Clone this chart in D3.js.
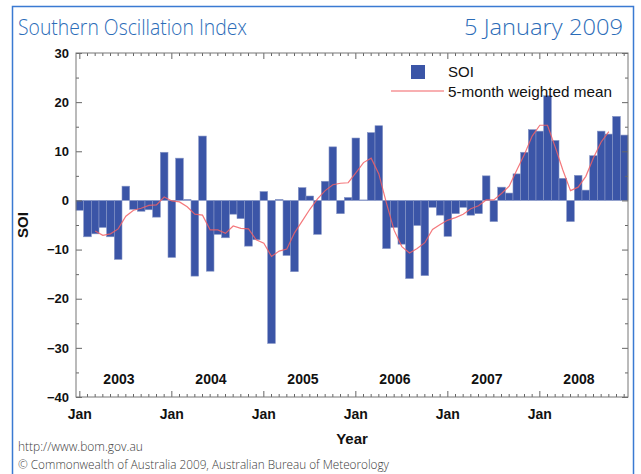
<!DOCTYPE html>
<html lang="en">
<head>
    <meta charset="UTF-8">
    <script src="https://d3js.org/d3.v7.min.js"></script>
    <title>Southern Oscillation Index</title>
    <style>
        body { margin: 0; background: #fff; }
        svg { display: block; }
    </style>
</head>
<body>
    <script>
        // monthly SOI, Jan 2003 .. Dec 2008
        var years = ['2003', '2004', '2005', '2006', '2007', '2008'];
        var soi = [
            -2.0, -7.4, -6.8, -5.5, -7.4, -12.0, 2.9, -1.8, -2.2, -1.9, -3.4, 9.8,
            -11.6, 8.6, 0.2, -15.4, 13.1, -14.4, -6.9, -7.6, -2.8, -3.7, -9.3, -8.0,
            1.8, -29.1, 0.2, -11.2, -14.5, 2.6, 0.9, -6.9, 3.9, 10.9, -2.7, 0.6,
            12.7, 0.1, 13.8, 15.2, -9.8, -5.5, -8.9, -15.9, -5.1, -15.3, -1.4, -3.0,
            -7.3, -2.7, -1.4, -3.0, -2.7, 5.0, -4.3, 2.7, 1.5, 5.4, 9.8, 14.4,
            14.1, 21.3, 12.2, 4.5, -4.3, 5.1, 2.1, 9.1, 14.1, 13.5, 17.1, 13.3
        ];
        // 5-month weighted mean, Mar 2003 .. Oct 2008
        var meanStart = 2;
        var mean5 = [
            -6.2, -7.1, -6.8, -5.8, -3.2, -2.0, -1.6, -1.0, -0.9, 0.7,
            -0.1, -0.3, -1.3, -2.8, -3.0, -6.0, -6.0, -6.7, -5.2, -5.7, -5.8, -8.0,
            -8.7, -11.4, -10.3, -9.9, -6.6, -4.2, -1.8, 0.3, 2.0, 3.2, 3.5, 3.6,
            5.6, 7.7, 8.6, 5.4, -0.6, -6.1, -9.4, -10.7, -9.8, -8.6, -5.9, -4.9,
            -4.0, -3.5, -2.8, -1.7, -1.1, 0.1, 0.1, 1.4, 2.9, 6.2, 9.4, 13.1,
            15.3, 15.3, 10.9, 6.2, 2.0, 2.7, 4.9, 8.7, 11.9, 14.0
        ];
        var yTicks = [30, 20, 10, 0, -10, -20, -30, -40];

        var W = 641, H = 474;
        var plotLeft = 76, plotRight = 628, plotTop = 53, plotBottom = 397;
        var blue = '#2b6cb8';
        var barColor = '#3b55a7';
        var redLine = '#f26065';

        var svg = d3.select('body').append('svg')
            .attr('width', W).attr('height', H);

        // outer frame
        svg.append('rect')
            .attr('x', 12.5).attr('y', 6.5)
            .attr('width', 621).attr('height', 480)
            .attr('fill', 'none')
            .attr('stroke', '#3a7ad2')
            .attr('stroke-width', 1.5);

        svg.append('text')
            .attr('x', 18).attr('y', 35)
            .attr('font-family', 'Open Sans, sans-serif')
            .attr('font-weight', 300)
            .attr('font-size', '22px')
            .attr('fill', blue)
            .attr('textLength', 229)
            .attr('lengthAdjust', 'spacingAndGlyphs')
            .text('Southern Oscillation Index');

        svg.append('text')
            .attr('x', 623).attr('y', 35)
            .attr('text-anchor', 'end')
            .attr('font-family', 'Open Sans, sans-serif')
            .attr('font-weight', 300)
            .attr('font-size', '22px')
            .attr('fill', blue)
            .attr('textLength', 159)
            .attr('lengthAdjust', 'spacingAndGlyphs')
            .text('5 January 2009');

        var months = d3.range(soi.length);

        var xScale = d3.scaleBand()
            .domain(months)
            .range([plotLeft, plotRight])
            .paddingInner(0)
            .paddingOuter(0);

        var yScale = d3.scaleLinear()
            .domain([-40, 30])
            .range([plotBottom, plotTop]);

        // bars
        svg.append('g').selectAll('rect')
            .data(soi)
            .enter()
            .append('rect')
            .attr('x', function(d, i) { return xScale(i); })
            .attr('y', function(d) { return yScale(Math.max(0, d)); })
            .attr('width', xScale.bandwidth())
            .attr('height', function(d) { return Math.abs(yScale(d) - yScale(0)); })
            .attr('fill', barColor)
            .attr('stroke', '#8796c6')
            .attr('stroke-width', 0.6);

        // weighted mean line
        var line = d3.line()
            .x(function(d, i) { return xScale(i + meanStart) + xScale.bandwidth() / 2; })
            .y(function(d) { return yScale(d); });

        svg.append('path')
            .datum(mean5)
            .attr('d', line)
            .attr('fill', 'none')
            .attr('stroke', redLine)
            .attr('stroke-opacity', 0.85)
            .attr('stroke-width', 1.2);

        // axes (ticks inward)
        var janTicks = months.filter(function(i) { return i % 12 === 0; });
        var minorX = months.filter(function(i) { return i % 12 !== 0; });
        var minorY = d3.range(-35, 30, 10);

        function styleAxis(g) {
            g.select('.domain').remove();
            g.selectAll('.tick line').attr('stroke', '#666');
        }

        svg.append('g').attr('transform', 'translate(0,' + plotTop + ')')
            .call(d3.axisTop(xScale).tickValues(minorX).tickSize(-3).tickFormat(''))
            .call(styleAxis);
        svg.append('g').attr('transform', 'translate(0,' + plotTop + ')')
            .call(d3.axisTop(xScale).tickValues(janTicks).tickSize(-6).tickFormat(''))
            .call(styleAxis);
        svg.append('g').attr('transform', 'translate(0,' + plotBottom + ')')
            .call(d3.axisBottom(xScale).tickValues(minorX).tickSize(-3).tickFormat(''))
            .call(styleAxis);
        var xAxis = svg.append('g').attr('transform', 'translate(0,' + plotBottom + ')')
            .call(d3.axisBottom(xScale).tickValues(janTicks).tickSize(-6).tickPadding(12)
                .tickFormat(function() { return 'Jan'; }))
            .call(styleAxis);
        xAxis.selectAll('text')
            .attr('font-family', 'Liberation Sans, Arial, sans-serif')
            .attr('font-size', '14px')
            .attr('font-weight', 'bold')
            .attr('fill', '#111');

        var yAxis = svg.append('g').attr('transform', 'translate(' + plotLeft + ',0)')
            .call(d3.axisLeft(yScale).tickValues(yTicks).tickSize(-6).tickPadding(7))
            .call(styleAxis);
        yAxis.selectAll('text')
            .attr('font-family', 'Liberation Sans, Arial, sans-serif')
            .attr('font-size', '13px')
            .attr('font-weight', 'bold')
            .attr('fill', '#111');
        svg.append('g').attr('transform', 'translate(' + plotLeft + ',0)')
            .call(d3.axisLeft(yScale).tickValues(minorY).tickSize(-3).tickFormat(''))
            .call(styleAxis);
        svg.append('g').attr('transform', 'translate(' + plotRight + ',0)')
            .call(d3.axisRight(yScale).tickValues(yTicks).tickSize(-6).tickFormat(''))
            .call(styleAxis);
        svg.append('g').attr('transform', 'translate(' + plotRight + ',0)')
            .call(d3.axisRight(yScale).tickValues(minorY).tickSize(-3).tickFormat(''))
            .call(styleAxis);

        // plot box
        svg.append('rect')
            .attr('x', plotLeft).attr('y', plotTop)
            .attr('width', plotRight - plotLeft).attr('height', plotBottom - plotTop)
            .attr('fill', 'none')
            .attr('stroke', '#777')
            .attr('stroke-width', 1);

        // year labels inside plot
        svg.append('g').selectAll('text')
            .data(years)
            .enter()
            .append('text')
            .attr('x', function(d, i) { return xScale(i * 12 + 5) + xScale.bandwidth() * 0.6; })
            .attr('y', 384)
            .attr('text-anchor', 'middle')
            .attr('font-family', 'Liberation Sans, Arial, sans-serif')
            .attr('font-size', '14px')
            .attr('font-weight', 'bold')
            .attr('fill', '#111')
            .text(function(d) { return d; });

        // axis titles
        svg.append('text')
            .attr('x', 352).attr('y', 444)
            .attr('text-anchor', 'middle')
            .attr('font-family', 'Liberation Sans, Arial, sans-serif')
            .attr('font-size', '15px')
            .attr('font-weight', 'bold')
            .attr('fill', '#111')
            .text('Year');

        svg.append('text')
            .attr('transform', 'translate(28,225) rotate(-90)')
            .attr('text-anchor', 'middle')
            .attr('font-family', 'Liberation Sans, Arial, sans-serif')
            .attr('font-size', '15px')
            .attr('font-weight', 'bold')
            .attr('fill', '#111')
            .text('SOI');

        // legend
        svg.append('rect')
            .attr('x', 411).attr('y', 65)
            .attr('width', 14).attr('height', 14)
            .attr('fill', barColor);
        svg.append('text')
            .attr('x', 448).attr('y', 77)
            .attr('font-family', 'Liberation Sans, Arial, sans-serif')
            .attr('font-size', '15px')
            .attr('fill', '#111')
            .text('SOI');
        svg.append('line')
            .attr('x1', 391).attr('x2', 444)
            .attr('y1', 91).attr('y2', 91)
            .attr('stroke', redLine)
            .attr('stroke-width', 1.2);
        svg.append('text')
            .attr('x', 448).attr('y', 97)
            .attr('font-family', 'Liberation Sans, Arial, sans-serif')
            .attr('font-size', '15px')
            .attr('fill', '#111')
            .attr('textLength', 164)
            .attr('lengthAdjust', 'spacingAndGlyphs')
            .text('5-month weighted mean');

        // footer
        svg.append('text')
            .attr('x', 18).attr('y', 451)
            .attr('font-family', 'Open Sans, sans-serif')
            .attr('font-weight', 300)
            .attr('font-size', '12px')
            .attr('fill', '#3a3a3a')
            .text('http://www.bom.gov.au');
        svg.append('text')
            .attr('x', 18).attr('y', 469)
            .attr('font-family', 'Open Sans, sans-serif')
            .attr('font-weight', 300)
            .attr('font-size', '12px')
            .attr('fill', '#3a3a3a')
            .attr('textLength', 371)
            .attr('lengthAdjust', 'spacingAndGlyphs')
            .text('© Commonwealth of Australia 2009, Australian Bureau of Meteorology');
    </script>
</body>
</html>
